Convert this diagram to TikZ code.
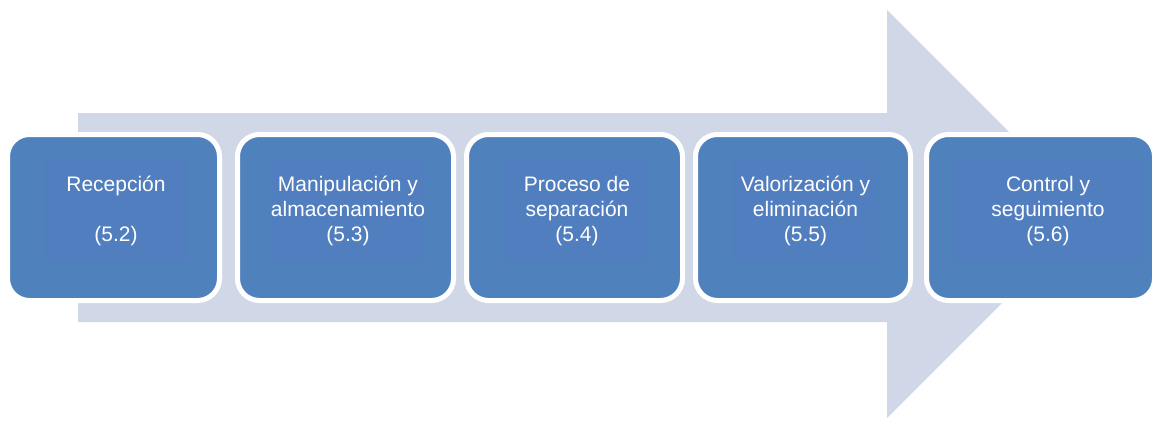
\documentclass[tikz,border=0pt]{standalone}
\usepackage{fontspec}
\setmainfont{Liberation Sans}
\definecolor{stageblue}{RGB}{79,129,189}
\definecolor{innerblue}{RGB}{81,126,190}
\definecolor{arrowgray}{RGB}{208,216,232}

\begin{document}
\begin{tikzpicture}
        [x=1pt, y=-1pt,
        stage/.style={rounded corners=22pt, draw=white, line width=5pt, fill=stageblue, minimum height=166pt, inner sep=0pt},
        stagetext/.style={fill=innerblue, minimum height=102pt, inner sep=0pt, text=white, align=center, font=\fontsize{21}{25}\selectfont}]

        \useasboundingbox (0,0) rectangle (1158,420);

        % big background arrow
        \fill[arrowgray] (78,113) -- (887,113) -- (887,10) -- (1091,214) -- (887,418) -- (887,322) -- (78,322) -- cycle;

        % stages
        \node[stage, minimum width=212pt] (s1) at (113.5,217.5) {};
        \node[stage, minimum width=216pt] (s2) at (345.5,217.5) {};
        \node[stage, minimum width=216pt] (s3) at (574.5,217.5) {};
        \node[stage, minimum width=215pt] (s4) at (803,217.5) {};
        \node[stage, minimum width=228pt] (s5) at (1040.5,217.5) {};

        % texts
        \node[stagetext, minimum width=142pt] (t1) at (116,211) {Recepción\\[25pt](5.2)};
        \node[stagetext, minimum width=146pt] (t2) at (348,211) {Manipulación y\\almacenamiento\\(5.3)};
        \node[stagetext, minimum width=146pt] (t3) at (577,211) {Proceso de\\separación\\(5.4)};
        \node[stagetext, minimum width=145pt] (t4) at (805.5,211) {Valorización y\\eliminación\\(5.5)};
        \node[stagetext, minimum width=190pt] (t5) at (1048,211) {Control y\\seguimiento\\(5.6)};

\end{tikzpicture}
\end{document}
